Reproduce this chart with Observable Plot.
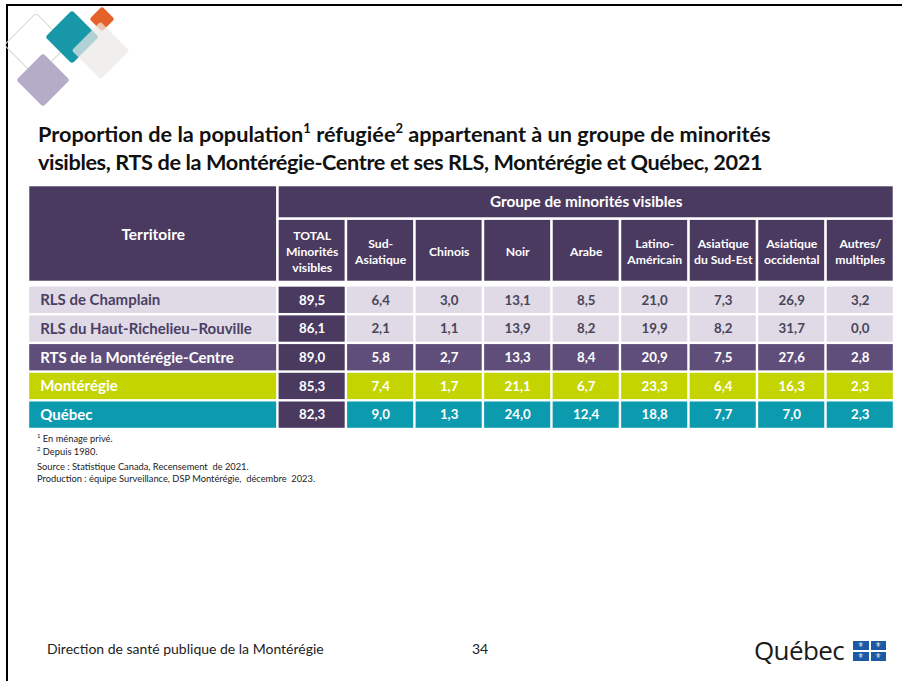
<!DOCTYPE html>
<html lang="fr">
<head>
<meta charset="utf-8">
<script src="https://cdn.jsdelivr.net/npm/d3@7"></script>
<script src="https://cdn.jsdelivr.net/npm/@observablehq/plot@0.6"></script>
<style>
  html, body { margin: 0; padding: 0; background: #fff; }
  #slide { position: relative; width: 902px; height: 681px; overflow: hidden; background: #fff; font-family: Lato, "Open Sans", sans-serif; }
  #frame { position: absolute; left: 6px; top: 4px; width: 900px; height: 700px; border-top: 2px solid #000; border-left: 2px solid #000; }
  .dia { position: absolute; transform: rotate(45deg); border-radius: 3px; }
  #title { position: absolute; left: 38px; top: 120px; font-size: 21.7px; font-weight: 700; line-height: 28px; color: #111; white-space: nowrap; }
  #title sup { font-size: 13px; line-height: 0; position: relative; top: -1px; }
  #title .l2 { letter-spacing: -0.38px; }
  #table { position: absolute; left: 28px; top: 185px; }
  .note { position: absolute; left: 37px; font-size: 9.3px; color: #222; white-space: nowrap; }
  .note sup { font-size: 6px; }
  #footer { position: absolute; left: 47px; top: 640px; font-size: 14px; color: #222; }
  #page { position: absolute; left: 472px; top: 640px; font-size: 14px; color: #222; }
  #qclogo { position: absolute; left: 754px; top: 632px; font-size: 26px; color: #1a1a1a; font-family: "Open Sans", sans-serif; letter-spacing: -0.6px; }
  #flag { position: absolute; left: 853px; top: 641px; width: 33px; height: 20px; background: #fff; }
  #flag div { position: absolute; width: 15.5px; height: 9px; background: #1c5aa5; color: #fff; font-size: 7px; line-height: 9px; text-align: center; font-family: "DejaVu Sans", sans-serif; }
</style>
</head>
<body>
<div id="slide">
  <div id="frame"></div>
  <!-- decorative logo -->
  <div class="dia" style="left:13px;top:22px;width:44px;height:44px;border:1.5px solid #d6dccf;border-radius:4px;"></div>
  <div class="dia" style="left:24px;top:61px;width:38px;height:38px;background:#b5acc7;"></div>
  <div class="dia" style="left:53px;top:18px;width:38px;height:38px;background:#1897a8;"></div>
  <div class="dia" style="left:93px;top:10px;width:18px;height:18px;background:#e5612a;"></div>
  <div class="dia" style="left:80px;top:30px;width:41px;height:41px;background:rgba(236,233,230,0.72);"></div>

  <div id="title">Proportion de la population<sup>1</sup> réfugiée<sup>2</sup> appartenant à un groupe de minorités<br><span class="l2">visibles, RTS de la Montérégie-Centre et ses RLS, Montérégie et Québec, 2021</span></div>
  <div id="table"></div>

  <div class="note" style="top:432px;"><sup>1</sup> En ménage privé.</div>
  <div class="note" style="top:445px;"><sup>2</sup> Depuis 1980.</div>
  <div class="note" style="top:461px;">Source : Statistique Canada, Recensement&nbsp; de 2021.</div>
  <div class="note" style="top:473px;">Production : équipe Surveillance, DSP Montérégie,&nbsp; décembre&nbsp; 2023.</div>

  <div id="footer">Direction de santé publique de la Montérégie</div>
  <div id="page">34</div>
  <div id="qclogo">Québec</div>
  <div id="flag">
    <div style="left:0;top:0;">⚜</div><div style="left:17.5px;top:0;">⚜</div>
    <div style="left:0;top:11px;">⚜</div><div style="left:17.5px;top:11px;">⚜</div>
  </div>
</div>

<script>
// ---------- DATA ----------
const territoires = ["RLS de Champlain", "RLS du Haut-Richelieu–Rouville", "RTS de la Montérégie-Centre", "Montérégie", "Québec"];
const groupes = ["TOTAL\nMinorités\nvisibles", "Sud-\nAsiatique", "Chinois", "Noir", "Arabe", "Latino-\nAméricain", "Asiatique\ndu Sud-Est", "Asiatique\noccidental", "Autres/\nmultiples"];
const totalMinorites     = [89.5, 86.1, 89.0, 85.3, 82.3];
const sudAsiatique       = [6.4, 2.1, 5.8, 7.4, 9.0];
const chinois            = [3.0, 1.1, 2.7, 1.7, 1.3];
const noir               = [13.1, 13.9, 13.3, 21.1, 24.0];
const arabe              = [8.5, 8.2, 8.4, 6.7, 12.4];
const latinoAmericain    = [21.0, 19.9, 20.9, 23.3, 18.8];
const asiatiqueSudEst    = [7.3, 8.2, 7.5, 6.4, 7.7];
const asiatiqueOccidental= [26.9, 31.7, 27.6, 16.3, 7.0];
const autresMultiples    = [3.2, 0.0, 2.8, 2.3, 2.3];
const headerTerritoire = "Territoire";
const headerGroupe = "Groupe de minorités visibles";

// ---------- LAYOUT / STYLE ----------
const series = [totalMinorites, sudAsiatique, chinois, noir, arabe, latinoAmericain, asiatiqueSudEst, asiatiqueOccidental, autresMultiples];
const labelColUnits = 3.64;           // width of the Territoire column, in numeric-column units
const nCols = groupes.length;
const xMax = labelColUnits + nCols;
const hdr1 = 1.17, hdr2 = 3.38, dataStart = 3.5; // header row bounds, in row units
const yMax = dataStart + territoires.length;

const C = {
  header: "#4b3a5f",
  light: "#dfdae6",
  rts: "#5f4e7a",
  lime: "#c4d400",
  teal: "#0b9aae",
  total: "#4b3a5f",
  darkText: "#4a4458",
  labelText: "#4b3f63"
};
const rowFill = [C.light, C.light, C.rts, C.lime, C.teal];
const rowLabelColor = [C.labelText, C.labelText, "#fff", "#fff", "#fff"];
const rowValueColor = [C.darkText, C.darkText, "#fff", "#fff", "#fff"];

const colX1 = j => labelColUnits + j;
const fmt = v => d3.format(".1f")(v).replace(".", ",");

// header cells
const headCells = [
  {x1: 0, x2: labelColUnits, y1: 0, y2: hdr2, fill: C.header},
  {x1: labelColUnits, x2: xMax, y1: 0, y2: hdr1, fill: C.header},
  ...groupes.map((g, j) => ({x1: colX1(j), x2: colX1(j) + 1, y1: hdr1, y2: hdr2, fill: C.header}))
];
// body cells
const bodyCells = [];
territoires.forEach((t, i) => {
  bodyCells.push({x1: 0, x2: labelColUnits, y1: dataStart + i, y2: dataStart + i + 1, fill: rowFill[i]});
  series.forEach((s, j) => {
    bodyCells.push({
      x1: colX1(j), x2: colX1(j) + 1, y1: dataStart + i, y2: dataStart + i + 1,
      fill: j === 0 ? C.total : rowFill[i],
      text: fmt(s[i]),
      color: j === 0 ? "#fff" : rowValueColor[i]
    });
  });
});
const rowLabels = territoires.map((t, i) => ({t, y: dataStart + i + 0.5, color: rowLabelColor[i]}));
const subHeads = groupes.map((g, j) => ({g, x: colX1(j) + 0.5, y: (hdr1 + hdr2) / 2}));

const plot = Plot.plot({
  width: 866,
  height: 244,
  margin: 0,
  x: {domain: [0, xMax], axis: null},
  y: {domain: [0, yMax], axis: null, reverse: true},
  color: {type: "identity"},
  style: {fontFamily: "Lato, 'Open Sans', sans-serif", background: "transparent"},
  marks: [
    Plot.rect(headCells, {x1: "x1", x2: "x2", y1: "y1", y2: "y2", fill: "fill", inset: 1.3}),
    Plot.rect(bodyCells, {x1: "x1", x2: "x2", y1: "y1", y2: "y2", fill: "fill", inset: 1.2}),
    Plot.text([headerTerritoire], {x: labelColUnits / 2, y: hdr2 / 2 + 0.05, text: d => d, fill: "#fff", fontSize: 15.5, fontWeight: 700}),
    Plot.text([headerGroupe], {x: labelColUnits + nCols / 2, y: hdr1 / 2, text: d => d, fill: "#fff", fontSize: 15.3, fontWeight: 700}),
    Plot.text(subHeads, {x: "x", y: "y", text: "g", fill: "#fff", fontSize: 12.2, fontWeight: 700, lineHeight: 1.3}),
    Plot.text(rowLabels, {x: 0.17, y: "y", text: "t", fill: "color", fontSize: 15, fontWeight: 700, textAnchor: "start"}),
    Plot.text(bodyCells.filter(d => d.text), {x: d => (d.x1 + d.x2) / 2, y: d => (d.y1 + d.y2) / 2, text: "text", fill: "color", fontSize: 13.3, fontWeight: 700})
  ]
});
document.getElementById("table").appendChild(plot);
</script>
</body>
</html>
